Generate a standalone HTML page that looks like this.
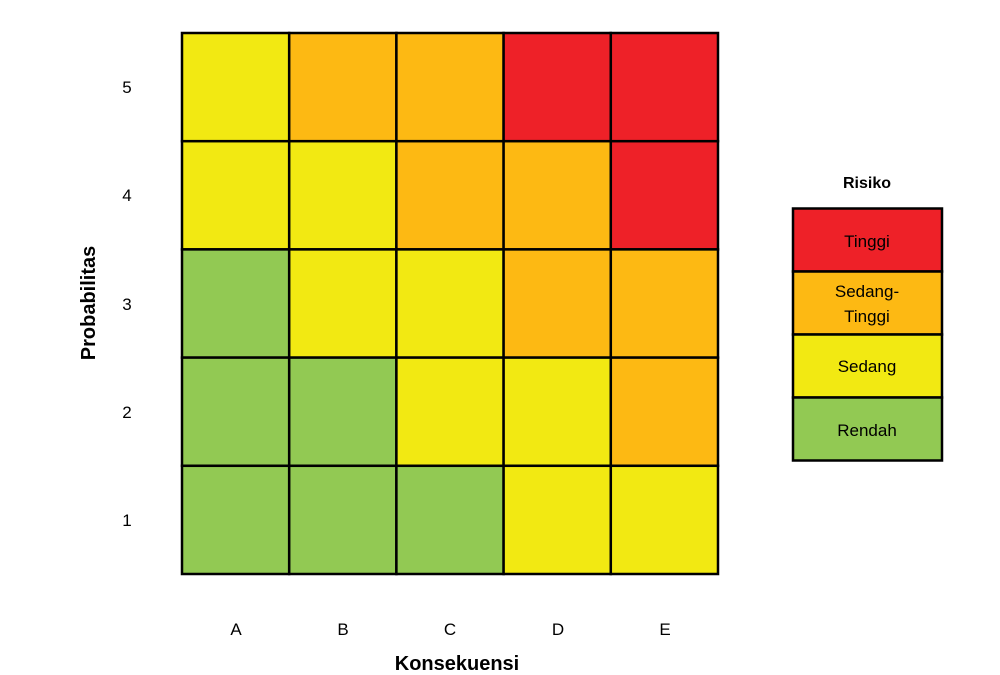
<!DOCTYPE html>
<html><head><style>body{margin:0;background:#fff}svg{display:block}text{font-family:"Liberation Sans",sans-serif}</style></head><body>
<svg width="1000" height="675" xmlns="http://www.w3.org/2000/svg">
<g stroke="#000" stroke-width="2.5">
<!-- row 5 -->
<rect x="182" y="33" width="107.2" height="108.2" fill="#F2E912"/>
<rect x="289.2" y="33" width="107.2" height="108.2" fill="#FDB913"/>
<rect x="396.4" y="33" width="107.2" height="108.2" fill="#FDB913"/>
<rect x="503.6" y="33" width="107.2" height="108.2" fill="#EE2128"/>
<rect x="610.8" y="33" width="107.2" height="108.2" fill="#EE2128"/>
<!-- row 4 -->
<rect x="182" y="141.2" width="107.2" height="108.2" fill="#F2E912"/>
<rect x="289.2" y="141.2" width="107.2" height="108.2" fill="#F2E912"/>
<rect x="396.4" y="141.2" width="107.2" height="108.2" fill="#FDB913"/>
<rect x="503.6" y="141.2" width="107.2" height="108.2" fill="#FDB913"/>
<rect x="610.8" y="141.2" width="107.2" height="108.2" fill="#EE2128"/>
<!-- row 3 -->
<rect x="182" y="249.4" width="107.2" height="108.2" fill="#92C953"/>
<rect x="289.2" y="249.4" width="107.2" height="108.2" fill="#F2E912"/>
<rect x="396.4" y="249.4" width="107.2" height="108.2" fill="#F2E912"/>
<rect x="503.6" y="249.4" width="107.2" height="108.2" fill="#FDB913"/>
<rect x="610.8" y="249.4" width="107.2" height="108.2" fill="#FDB913"/>
<!-- row 2 -->
<rect x="182" y="357.6" width="107.2" height="108.2" fill="#92C953"/>
<rect x="289.2" y="357.6" width="107.2" height="108.2" fill="#92C953"/>
<rect x="396.4" y="357.6" width="107.2" height="108.2" fill="#F2E912"/>
<rect x="503.6" y="357.6" width="107.2" height="108.2" fill="#F2E912"/>
<rect x="610.8" y="357.6" width="107.2" height="108.2" fill="#FDB913"/>
<!-- row 1 -->
<rect x="182" y="465.8" width="107.2" height="108.2" fill="#92C953"/>
<rect x="289.2" y="465.8" width="107.2" height="108.2" fill="#92C953"/>
<rect x="396.4" y="465.8" width="107.2" height="108.2" fill="#92C953"/>
<rect x="503.6" y="465.8" width="107.2" height="108.2" fill="#F2E912"/>
<rect x="610.8" y="465.8" width="107.2" height="108.2" fill="#F2E912"/>
<!-- legend -->
<rect x="793" y="208.5" width="149" height="63" fill="#EE2128"/>
<rect x="793" y="271.5" width="149" height="63" fill="#FDB913"/>
<rect x="793" y="334.5" width="149" height="63" fill="#F2E912"/>
<rect x="793" y="397.5" width="149" height="63" fill="#92C953"/>
</g>
<g font-size="17" fill="#000" text-anchor="middle">
<text x="127" y="93">5</text><text x="127" y="201">4</text><text x="127" y="310">3</text><text x="127" y="418">2</text><text x="127" y="526">1</text>
<text x="236" y="635">A</text><text x="343" y="635">B</text><text x="450" y="635">C</text><text x="558" y="635">D</text><text x="665" y="635">E</text>
<text x="867" y="247">Tinggi</text>
<text x="867" y="297">Sedang-</text><text x="867" y="322">Tinggi</text>
<text x="867" y="372">Sedang</text>
<text x="867" y="436">Rendah</text>
</g>
<text x="867" y="188" font-size="16" font-weight="bold" text-anchor="middle">Risiko</text>
<text x="457" y="670" font-size="20" font-weight="bold" text-anchor="middle">Konsekuensi</text>
<text transform="translate(95,303) rotate(-90)" font-size="20" font-weight="bold" text-anchor="middle">Probabilitas</text>
</svg>
</body></html>
